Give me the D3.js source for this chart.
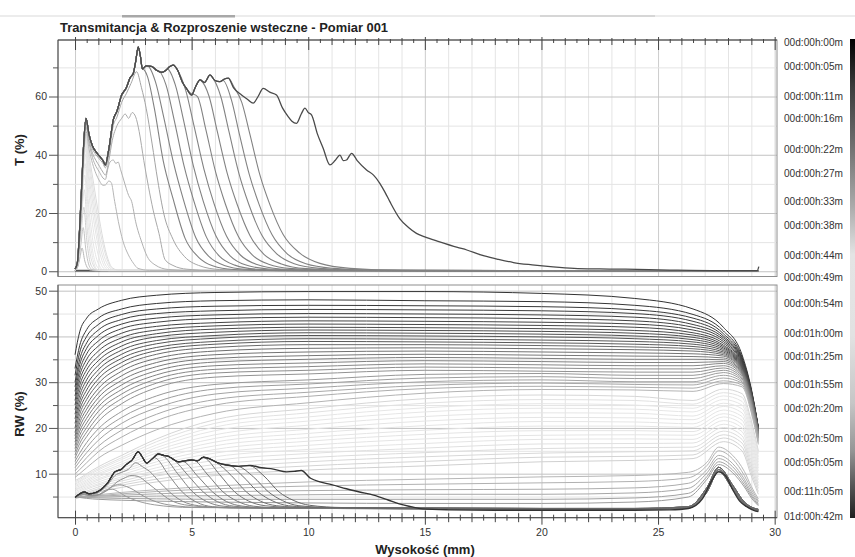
<!DOCTYPE html>
<html>
<head>
<meta charset="utf-8">
<script src="https://cdn.jsdelivr.net/npm/d3@7"></script>
<style>
  body { margin: 0; background: #fff; }
  svg { display: block; font-family: "Liberation Sans", Arial, sans-serif; }
</style>
</head>
<body>
<div id="chart"></div>
<script>
// ---- data ----
const titleText = "Transmitancja & Rozproszenie wsteczne - Pomiar 001";
const xLabels = [0, 5, 10, 15, 20, 25, 30];
const tMajorTicks = [0, 20, 40, 60];
const tMinorTicks = [10, 30, 50, 70];
const bsMajorTicks = [10, 20, 30, 40, 50];
const bsMinorTicks = [5, 15, 25, 35, 45];

const timeLabels = ["00d:00h:00m", "00d:00h:05m", "00d:00h:11m", "00d:00h:16m", "00d:00h:22m",
  "00d:00h:27m", "00d:00h:33m", "00d:00h:38m", "00d:00h:44m", "00d:00h:49m", "00d:00h:54m",
  "00d:01h:00m", "00d:01h:25m", "00d:01h:55m", "00d:02h:20m", "00d:02h:50m", "00d:05h:05m",
  "00d:11h:05m", "01d:00h:42m"];
// where each label sits along the time colour bar (0 = top, 1 = bottom)
const timeLabelAt = [0.008, 0.058, 0.119, 0.167, 0.230, 0.280, 0.340, 0.390, 0.451, 0.497,
  0.553, 0.614, 0.662, 0.722, 0.772, 0.835, 0.885, 0.944, 0.996];

// Transmission: last profile (widest), [mm, %]
const tFinal = [[0,0.8],[0.1,3],[0.2,15],[0.3,32],[0.38,45],[0.47,52.5],[0.6,47],[0.75,43],[0.9,41],
  [1.05,39.5],[1.2,38],[1.3,36.5],[1.45,42],[1.64,52],[1.8,55],[2.0,60.5],[2.2,63],[2.36,66.4],[2.5,68],
  [2.6,72],[2.71,77],[2.8,74],[2.89,69.5],[3.05,70.5],[3.29,70.3],[3.5,69],[3.71,68.3],[3.9,69],[4.05,70.2],
  [4.21,70.8],[4.4,69],[4.6,65],[4.8,62.5],[5.0,60.5],[5.15,63],[5.36,65.7],[5.55,64.8],[5.79,67.4],[6.0,65.5],
  [6.21,65.1],[6.4,66],[6.57,66.3],[6.8,63],[7.14,60.5],[7.4,59],[7.64,57.7],[7.85,60],[8.07,62.8],[8.35,61.5],
  [8.64,60.5],[8.9,56],[9.14,53.1],[9.3,51.5],[9.5,50.8],[9.7,54],[9.86,56],[10.0,54.5],[10.14,53.7],[10.4,47],
  [10.64,42.2],[10.93,36.5],[11.15,38],[11.36,39.9],[11.5,38],[11.64,38.2],[11.86,40.5],[12.1,38],[12.5,34.8],
  [12.8,33],[13.07,30.2],[13.3,27],[13.5,23.9],[13.93,18],[14.3,15],[14.64,13],[15.0,11.8],[15.6,10.2],
  [16.4,8.2],[16.8,7.3],[17.4,5.6],[18.1,4.2],[18.8,3.0],[19.6,2.2],[20.5,1.5],[21.4,1.0],[22.5,0.8],
  [23.6,0.7],[25.5,0.4],[27.6,0.2],[29.25,0.2],[29.32,1.6]];

// profiles that leave tFinal and fall off (their own part, from the split point on)
const tDrops = [
  [[6.8,63.5],[7.15,58],[7.5,47],[7.93,33],[8.36,22.8],[8.93,12.5],[9.64,6.2],[10.5,2.7],[11.8,1.0],[14,0.3],[29.3,0.1]],
  [[6.35,65.5],[6.7,59],[7.05,47],[7.48,33],[7.9,22.8],[8.45,12.5],[9.1,6.0],[9.9,2.6],[11.1,1.0],[13,0.3],[29.3,0.1]],
  [[5.9,66.5],[6.25,60],[6.6,48],[7.03,33.5],[7.45,23],[8.0,12.5],[8.65,6.0],[9.4,2.6],[10.5,1.0],[12.5,0.3],[29.3,0.1]],
  [[5.4,65.5],[5.75,60],[6.1,48],[6.53,33.5],[6.95,23],[7.5,12.3],[8.1,5.8],[8.85,2.5],[9.9,0.9],[12,0.3],[29.3,0.1]],
  [[4.9,61.5],[5.25,60],[5.6,49],[6.03,34],[6.45,23],[7.0,12],[7.6,5.6],[8.3,2.4],[9.3,0.9],[11.3,0.3],[29.3,0.1]],
  [[4.4,69],[4.75,62],[5.1,50],[5.53,35],[5.95,23.5],[6.5,12],[7.1,5.5],[7.8,2.3],[8.8,0.8],[10.8,0.3],[29.3,0.1]],
  [[3.95,69.5],[4.3,64],[4.65,52],[5.08,36],[5.5,24],[6.05,12],[6.65,5.3],[7.3,2.2],[8.3,0.8],[10.3,0.3],[29.3,0.1]],
  [[3.55,69],[3.9,64],[4.25,52],[4.68,36],[5.1,24],[5.63,11.8],[6.2,5.1],[6.85,2.1],[7.8,0.7],[9.8,0.2],[29.3,0.1]],
  [[3.1,70.5],[3.45,65],[3.8,53],[4.23,37],[4.65,24.5],[5.18,11.5],[5.75,5],[6.4,2],[7.3,0.7],[9.3,0.2],[29.3,0.1]],
  [[2.9,69.5],[3.1,67],[3.4,56],[3.78,38],[4.2,25],[4.72,11.3],[5.3,4.8],[5.9,1.9],[6.8,0.6],[8.8,0.2],[29.3,0.1]]
];

// profiles with their own lower plateaus
const tMid = [
  [[0,0.4],[0.1,2.5],[0.25,19],[0.38,44],[0.47,51.5],[0.6,46],[0.75,42],[0.9,40],[1.05,38.5],[1.2,37],[1.3,35.5],
   [1.45,40],[1.64,50],[1.8,53],[2.0,58],[2.2,61],[2.4,64.5],[2.64,68.5],[2.85,63],[3.05,56],[3.3,44],[3.55,31],
   [3.8,20],[4.2,11],[4.7,5],[5.3,2],[6.2,0.6],[8,0.2],[29.3,0.1]],
  [[0,0.4],[0.1,2.5],[0.25,19],[0.38,43],[0.47,50.5],[0.6,45],[0.75,40.5],[0.9,38],[1.05,36],[1.2,34],[1.3,33],
   [1.45,38],[1.6,45],[1.8,50],[2.0,52.5],[2.15,54],[2.3,52.5],[2.45,54.5],[2.6,53],[2.75,48],[2.95,38],[3.15,29],
   [3.35,21],[3.6,13],[3.86,4],[4.2,2],[4.8,0.7],[6,0.2],[29.3,0.1]],
  [[0,0.3],[0.1,2],[0.25,18],[0.38,42],[0.47,49.5],[0.6,44],[0.75,39],[0.9,36],[1.05,34],[1.2,32],[1.3,31.5],
   [1.4,35],[1.5,37.5],[1.64,38.2],[1.75,37],[1.85,37.5],[1.95,35],[2.1,31],[2.3,26],[2.43,23.9],[2.6,17],
   [2.86,10],[3.1,5],[3.43,2.2],[4,0.6],[5,0.2],[29.3,0.1]],
  [[0,0.3],[0.1,2],[0.25,17],[0.38,40],[0.47,48],[0.6,42],[0.75,37],[0.9,33.5],[1.05,31],[1.2,29.5],[1.3,29.6],
   [1.45,31],[1.55,30.5],[1.7,24],[1.86,17],[2.05,10.5],[2.29,5.6],[2.5,2.8],[2.7,1.0],[3.2,0.3],[29.3,0.1]]
];

// narrow early peaks near the bottom of the cell
const tLight = [
  [[0,0.3],[0.12,3],[0.25,18],[0.38,40],[0.46,47],[0.6,40],[0.8,30],[1.0,20],[1.2,11],[1.4,4.5],[1.6,1.2],[1.9,0.3],[29.3,0.1]],
  [[0,0.3],[0.12,3],[0.25,18],[0.38,40],[0.46,46],[0.6,38],[0.8,27],[1.0,17],[1.2,9],[1.4,3.5],[1.55,1.2],[1.8,0.3],[29.3,0.1]],
  [[0,0.3],[0.12,3],[0.25,18],[0.38,39],[0.46,45],[0.6,36],[0.8,24],[1.0,14],[1.2,6.5],[1.4,2.2],[1.6,0.5],[29.3,0.1]],
  [[0,0.3],[0.12,3],[0.25,18],[0.38,38],[0.46,44],[0.6,33],[0.8,21],[1.0,11],[1.2,4.5],[1.35,1.6],[1.6,0.3],[29.3,0.1]],
  [[0,0.3],[0.12,3],[0.25,17],[0.38,37],[0.45,43],[0.6,30],[0.8,17.5],[1.0,8.5],[1.15,3.8],[1.3,1.2],[1.5,0.3],[29.3,0.1]],
  [[0,0.3],[0.12,3],[0.25,17],[0.37,36],[0.45,42],[0.58,28],[0.75,16],[0.95,7],[1.1,2.8],[1.25,0.8],[1.45,0.2],[29.3,0.1]],
  [[0,0.3],[0.12,3],[0.25,16],[0.36,34],[0.44,40],[0.56,25],[0.72,13],[0.9,5],[1.05,1.8],[1.2,0.4],[29.3,0.1]],
  [[0,0.3],[0.12,3],[0.25,16],[0.35,31],[0.43,37],[0.55,22],[0.7,10],[0.85,3.5],[1.0,1],[1.15,0.3],[29.3,0.1]],
  [[0,0.3],[0.12,3],[0.25,15],[0.34,28],[0.42,33],[0.53,19],[0.68,8],[0.82,2.5],[0.95,0.6],[1.1,0.2],[29.3,0.1]],
  [[0,0.3],[0.12,3],[0.25,14],[0.33,24],[0.4,28],[0.52,15],[0.65,6],[0.8,1.8],[0.95,0.4],[29.3,0.1]],
  [[0,0.3],[0.12,2.5],[0.25,12],[0.38,22],[0.5,11],[0.62,4],[0.75,1.2],[0.9,0.3],[29.3,0.1]],
  [[0,0.3],[0.12,2],[0.25,9],[0.35,15],[0.47,7],[0.58,2.5],[0.7,0.7],[0.85,0.2],[29.3,0.1]],
  [[0,0.2],[0.12,1.5],[0.22,5],[0.3,8],[0.42,3.5],[0.55,1],[0.7,0.3],[29.3,0.1]]
];

// very first profiles, T ~ 0 everywhere
const tEarly = [
  [[0,0.1],[29.3,0.1]],
  [[0,0.3],[29.3,0.25]]
];

// Backscattering, profiles sampled on a shared height grid
const bsX = [0, 0.2, 0.5, 1, 2, 3.5, 6, 10, 15, 20, 24, 26.5, 27.8, 28.6, 29, 29.3];
const bsTop = [
  [36, 41, 44, 46, 47.9, 49, 49.6, 49.8, 49.8, 49.4, 48.3, 46, 42, 36, 28.5, 20],
  [33, 38, 41.5, 44, 46, 47.2, 47.8, 48, 47.8, 47.6, 46.8, 44.8, 41.2, 35.5, 28.3, 20.2],
  [31.5, 36.5, 40, 42.6, 44.8, 46, 46.6, 46.8, 46.7, 46.5, 45.8, 44, 40.6, 35.2, 28.1, 20.1],
  [30, 35, 38.6, 41.4, 43.7, 45, 45.6, 45.9, 45.8, 45.6, 45, 43.3, 40.1, 35, 28, 20],
  [29, 33.8, 37.4, 40.2, 42.7, 44, 44.7, 45, 44.9, 44.7, 44.2, 42.6, 39.7, 34.8, 27.9, 20],
  [28, 32.6, 36.2, 39, 41.7, 43.1, 43.9, 44.2, 44.1, 43.9, 43.4, 42, 39.3, 34.6, 27.8, 19.9],
  [27, 31.5, 35, 37.9, 40.7, 42.2, 43, 43.4, 43.3, 43.1, 42.7, 41.4, 38.9, 34.4, 27.7, 19.9],
  [26, 30.4, 33.8, 36.8, 39.7, 41.4, 42.3, 42.7, 42.6, 42.4, 42, 40.8, 38.5, 34.2, 27.6, 19.8],
  [25, 29.3, 32.7, 35.7, 38.8, 40.6, 41.6, 42, 41.9, 41.7, 41.3, 40.3, 38.1, 34, 27.5, 19.8],
  [24, 28.2, 31.6, 34.7, 37.9, 39.9, 40.9, 41.4, 41.3, 41.1, 40.7, 39.8, 37.8, 33.8, 27.4, 19.7],
  [23, 27.1, 30.5, 33.7, 37, 39.1, 40.2, 40.8, 40.7, 40.5, 40.1, 39.3, 37.5, 33.6, 27.3, 19.7],
  [22, 26, 29.4, 32.7, 36.1, 38.4, 39.6, 40.2, 40.1, 39.9, 39.5, 38.8, 37.2, 33.4, 27.2, 19.6],
  [21, 25, 28.3, 31.7, 35.2, 37.6, 38.9, 39.5, 39.4, 39.2, 38.9, 38.3, 36.9, 33.2, 27.1, 19.6],
  [20, 24, 27.2, 30.7, 34.3, 36.9, 38.3, 38.9, 38.8, 38.6, 38.3, 37.8, 36.6, 33, 27, 19.5]
];
const bsGrey = [
  [19, 23, 26.2, 29.7, 33.4, 36.1, 37.6, 38.2, 38.2, 38.0, 37.7, 37.3, 36.3, 32.8, 26.8, 19.4],
  [18.3, 22, 25.1, 28.6, 32.4, 35.2, 36.8, 37.4, 37.5, 37.3, 37.1, 36.8, 36, 32.6, 26.6, 19.3],
  [17.6, 21.1, 24.1, 27.6, 31.4, 34.3, 36, 36.6, 36.8, 36.6, 36.4, 36.2, 35.7, 32.4, 26.4, 19.2],
  [16.9, 20.2, 23.1, 26.6, 30.4, 33.4, 35.2, 35.8, 36.1, 35.9, 35.7, 35.6, 35.3, 32.2, 26.2, 19.0],
  [16.2, 19.3, 22.1, 25.6, 29.4, 32.5, 34.4, 35, 35.4, 35.2, 35.0, 35.0, 34.9, 32, 26, 18.9],
  [15.5, 18.4, 21.1, 24.6, 28.4, 31.6, 33.6, 34.2, 34.7, 34.5, 34.3, 34.3, 34.5, 31.8, 25.8, 18.7],
  [14.8, 17.5, 20.1, 23.6, 27.4, 30.7, 32.8, 33.4, 34.0, 33.8, 33.6, 33.6, 34.1, 31.6, 25.6, 18.6],
  [14.1, 16.6, 19.1, 22.5, 26.4, 29.8, 32.0, 32.6, 33.3, 33.1, 32.9, 32.9, 33.6, 31.3, 25.4, 18.4],
  [13.4, 15.7, 18.1, 21.4, 25.3, 28.8, 31.1, 31.8, 32.6, 32.4, 32.2, 32.2, 33.1, 31, 25.2, 18.2],
  [12.7, 14.5, 16.8, 19.8, 23.6, 27, 29.5, 30.5, 31.7, 31.9, 31.5, 31.5, 32.6, 30.7, 25, 18],
  [12, 13.6, 15.7, 18.6, 22.3, 25.7, 28.5, 29.6, 30.9, 31.2, 30.8, 30.8, 32.1, 30.4, 24.7, 17.8],
  [11.3, 12.7, 14.6, 17.3, 21, 24.4, 27.4, 28.7, 30.1, 30.5, 30.1, 30.1, 31.5, 30.1, 24.4, 17.5],
  [10.6, 11.8, 13.5, 16, 19.5, 23, 26.2, 27.8, 29.3, 29.8, 29.5, 29.4, 30.9, 29.8, 24.1, 17.2],
  [9.9, 10.9, 12.4, 14.8, 18, 21.6, 25, 26.9, 28.6, 29.1, 28.9, 28.7, 30.3, 29.4, 23.7, 16.8],
  [9.2, 10, 11.3, 13.4, 16.2, 19.6, 23.2, 25.5, 27.6, 28.4, 28.3, 28.0, 29.7, 29.0, 23.3, 16.4]
];
const bsLight = [
  [8.5, 9.0, 10.0, 11.5, 14.0, 17.6, 21.8, 24.2, 26.4, 27.2, 26.9, 26.0, 28.5, 27.5, 21.5, 15.0],
  [8.2, 8.7, 9.7, 11.1, 13.5, 17.0, 21.0, 23.3, 25.4, 26.2, 26.0, 25.2, 27.7, 26.7, 20.7, 14.4],
  [8.0, 8.4, 9.4, 10.8, 13.1, 16.3, 20.2, 22.4, 24.4, 25.3, 25.0, 24.3, 27.0, 25.8, 19.9, 13.7],
  [7.7, 8.2, 9.1, 10.4, 12.6, 15.7, 19.4, 21.5, 23.5, 24.3, 24.1, 23.5, 26.2, 25.0, 19.1, 13.1],
  [7.4, 7.9, 8.7, 10.0, 12.1, 15.1, 18.5, 20.6, 22.5, 23.3, 23.2, 22.6, 25.4, 24.2, 18.3, 12.5],
  [7.2, 7.6, 8.4, 9.7, 11.7, 14.5, 17.7, 19.7, 21.5, 22.3, 22.2, 21.8, 24.7, 23.3, 17.5, 11.8],
  [6.9, 7.3, 8.1, 9.3, 11.2, 13.8, 16.9, 18.8, 20.5, 21.4, 21.3, 20.9, 23.9, 22.5, 16.7, 11.2],
  [6.6, 7.0, 7.8, 8.9, 10.7, 13.2, 16.1, 17.9, 19.5, 20.4, 20.4, 20.1, 23.1, 21.7, 15.9, 10.6],
  [6.4, 6.8, 7.5, 8.6, 10.3, 12.6, 15.3, 17.1, 18.6, 19.4, 19.4, 19.2, 22.4, 20.8, 15.1, 9.9],
  [6.1, 6.5, 7.2, 8.2, 9.8, 12.0, 14.5, 16.2, 17.6, 18.4, 18.5, 18.4, 21.6, 20.0, 14.3, 9.3],
  [5.8, 6.2, 6.9, 7.8, 9.3, 11.3, 13.7, 15.3, 16.6, 17.5, 17.6, 17.5, 20.8, 19.2, 13.5, 8.7],
  [5.6, 5.9, 6.6, 7.5, 8.9, 10.7, 12.9, 14.4, 15.6, 16.5, 16.6, 16.7, 20.1, 18.3, 12.7, 8.0],
  [5.3, 5.6, 6.2, 7.1, 8.4, 10.1, 12.0, 13.5, 14.6, 15.5, 15.7, 15.8, 19.3, 17.5, 11.9, 7.4],
  [5.0, 5.4, 5.9, 6.7, 7.9, 9.5, 11.2, 12.6, 13.7, 14.5, 14.8, 15.0, 18.5, 16.7, 11.1, 6.8],
  [4.8, 5.1, 5.6, 6.4, 7.5, 8.8, 10.4, 11.7, 12.7, 13.6, 13.8, 14.1, 17.8, 15.8, 10.3, 6.1],
  [4.5, 4.8, 5.3, 6.0, 7.0, 8.2, 9.6, 10.8, 11.7, 12.6, 12.9, 13.3, 17.0, 15.0, 9.5, 5.5]
];
const bsXLow = [0, 0.2, 0.5, 1, 2, 3.5, 6, 10, 15, 20, 24, 26.3, 27.1, 27.6, 28.2, 28.7, 29, 29.3];
const bsLower = [
  [4.8, 4.9, 5.1, 5.4, 5.9, 6.5, 7.3, 8.2, 8.8, 9.3, 9.6, 10.3, 12.5, 15.8, 14, 10.5, 7.2, 4.5],
  [4.8, 4.9, 5.0, 5.2, 5.6, 6.1, 6.7, 7.3, 7.7, 8.0, 8.3, 9.1, 11.8, 15.0, 13.2, 9.6, 6.6, 4.1],
  [4.9, 4.9, 5.0, 5.1, 5.3, 5.6, 6.0, 6.3, 6.5, 6.6, 6.9, 7.9, 10.9, 14.0, 12.2, 8.8, 6.0, 3.8],
  [5.0, 4.9, 4.9, 4.9, 5.0, 5.1, 5.2, 5.4, 5.5, 5.5, 5.8, 6.8, 10.2, 13.3, 11.5, 8.2, 5.5, 3.5],
  [5.0, 4.9, 4.8, 4.7, 4.6, 4.5, 4.4, 4.4, 4.4, 4.4, 4.7, 5.7, 9.4, 12.6, 10.8, 7.6, 5.1, 3.2],
  [5.0, 4.8, 4.6, 4.4, 4.2, 4.0, 3.8, 3.6, 3.5, 3.5, 3.8, 4.9, 8.8, 12.0, 10.2, 7.1, 4.7, 3.0]
];

// last backscattering profile, [mm, %]
const bsFinal = [[0,4.8],[0.2,5.6],[0.4,6.0],[0.6,5.6],[0.9,5.9],[1.1,6.5],[1.4,8],[1.71,10.4],[2.0,11],[2.2,12],
  [2.45,13],[2.71,14.8],[2.9,13.5],[3.07,12.3],[3.3,13.2],[3.57,14.3],[3.8,14],[4.0,13.8],[4.2,13.2],[4.43,12.6],
  [4.7,12.8],[5.0,13],[5.25,12.8],[5.5,13.6],[5.8,13.2],[6.1,12.4],[6.5,11.9],[7.0,11.6],[7.5,11.8],[8.0,11.3],
  [8.5,11],[9.07,10.4],[9.4,10.5],[9.7,10.7],[10.1,9.0],[10.5,8.2],[11.0,7.6],[11.64,6.7],[12.2,6.0],[12.8,5.3],
  [13.4,4.3],[13.9,3.4],[14.4,2.8],[14.9,2.3],[16,2.1],[18,2.0],[20,2.0],[22,2.0],[24,2.0],[25.5,2.1],[26.3,2.4],
  [26.9,4.5],[27.2,7.5],[27.6,10.4],[27.9,9.5],[28.2,6.5],[28.5,4],[28.8,2.8],[29.1,2.0],[29.3,1.7]];

// profiles that leave bsFinal and fall back to the base
const bsDrops = [
  [[7.45,11.8],[8.1,9.5],[8.75,6],[9.35,4.2],[10.05,3.1],[11.5,2.6]],
  [[7.0,11.6],[7.65,9.3],[8.3,6],[8.9,4.1],[9.6,3.0],[11,2.6]],
  [[6.55,11.9],[7.2,9.4],[7.85,6],[8.45,4.1],[9.15,3.0],[10.5,2.6]],
  [[6.05,12.5],[6.7,9.6],[7.35,6],[7.95,4],[8.65,3.0],[10,2.6]],
  [[5.55,13.5],[6.2,9.8],[6.85,6],[7.45,4],[8.15,3.0],[9.5,2.6]],
  [[5.05,13],[5.7,9.7],[6.35,6],[6.95,4],[7.65,2.9],[9,2.5]],
  [[4.6,12.7],[5.25,9.5],[5.9,6],[6.5,3.9],[7.2,2.9],[8.6,2.5]],
  [[4.2,13.2],[4.85,9.6],[5.5,6],[6.1,3.9],[6.8,2.9],[8.2,2.5]],
  [[3.75,14],[4.4,10],[5.05,6],[5.65,3.9],[6.35,2.9],[7.8,2.5]],
  [[3.4,13.5],[4.0,9.8],[4.6,6],[5.2,3.8],[5.9,2.8],[7.3,2.5]]
];
// lower bumps with their own shape
const bsRise = [
  [[0,4.8],[0.2,5.5],[0.4,5.8],[0.6,5.4],[0.9,5.6],[1.1,6.2],[1.4,7.6],[1.71,9.6],[2.0,10.3],[2.3,11],[2.6,12.4],
   [2.9,11.5],[3.2,10.5],[3.6,8.3],[4.05,6],[4.6,4],[5.3,3],[6.8,2.5]],
  [[0,4.8],[0.2,5.4],[0.4,5.6],[0.6,5.2],[0.9,5.3],[1.2,5.8],[1.5,6.8],[1.8,8.2],[2.1,9],[2.4,9.6],[2.7,9.4],
   [3.1,8],[3.6,6],[4.1,4.2],[4.7,3.2],[6.2,2.6]],
  [[0,4.8],[0.2,5.3],[0.4,5.5],[0.7,5.2],[1.0,5.4],[1.3,6.2],[1.6,7.2],[1.9,7.6],[2.2,7.2],[2.5,6.5],[2.8,5.5],
   [3.3,4.2],[4.0,3.2],[5.5,2.6]],
  [[0,4.8],[0.2,5.2],[0.4,5.4],[0.7,5.1],[1.0,5.3],[1.3,6.4],[1.6,6.6],[1.9,5.9],[2.2,5],[2.7,4],[3.4,3.2],[5,2.6]]
];
// right-hand part shared by the late profiles (peak near the top of the cell)
const bsLateRight = [
  [[15,2.5],[20,2.4],[24,2.4],[26.3,2.8],[27.1,7],[27.6,11.4],[28.2,7.5],[28.7,3.8],[29,2.7],[29.3,2.2]],
  [[15,2.4],[20,2.3],[24,2.3],[26.3,2.6],[27.1,6.5],[27.6,10.9],[28.2,7],[28.7,3.5],[29,2.5],[29.3,2.0]],
  [[15,2.3],[20,2.2],[24,2.2],[26.3,2.5],[27.1,6],[27.6,10.5],[28.2,6.6],[28.7,3.2],[29,2.3],[29.3,1.9]]
];

// ---- drawing ----
const W = 855, H = 557;
const svg = d3.select("#chart").append("svg").attr("width", W).attr("height", H);

const x = d3.scaleLinear().domain([-0.73, 30.1]).range([58, 777]);
const yT = d3.scaleLinear().domain([-1.8, 79.4]).range([276.5, 40]);
const yB = d3.scaleLinear().domain([0.38, 51.24]).range([517.7, 285]);

// grey ramp of the time bar
const shade = d3.scaleLinear()
  .domain([0, 0.1, 0.22, 0.35, 0.45, 0.62, 0.76, 0.86, 0.93, 1])
  .range(["#000", "#3c3c3c", "#6e6e6e", "#ababab", "#e4e4e4", "#e2e2e2", "#c6c6c6", "#959595", "#585858", "#202020"]);
// same ramp, a little softer for the thin profile lines
const lineShade = d3.scaleLinear()
  .domain([0, 0.1, 0.22, 0.35, 0.45, 0.62, 0.76, 0.86, 0.93, 1])
  .range(["#303030", "#505050", "#7c7c7c", "#b2b2b2", "#e6e6e6", "#e4e4e4", "#c8c8c8", "#9c9c9c", "#6a6a6a", "#2e2e2e"]);

// thin tab strip on top
svg.append("rect").attr("x", 0).attr("y", 15).attr("width", W).attr("height", 2).attr("fill", "#ececec");
svg.append("rect").attr("x", 122).attr("y", 15).attr("width", 113).attr("height", 2.5).attr("fill", "#a8a8a8");
svg.append("rect").attr("x", 540).attr("y", 15).attr("width", 115).attr("height", 2).attr("fill", "#d6d6d6");

const panels = [
  { y: yT, top: 40, bot: 276.5, major: tMajorTicks, minor: tMinorTicks, label: "T (%)", labelY: 150, id: "clipT" },
  { y: yB, top: 285, bot: 517.7, major: bsMajorTicks, minor: bsMinorTicks, label: "RW (%)", labelY: 414, id: "clipB" }
];

const defs = svg.append("defs");
panels.forEach(p => {
  defs.append("clipPath").attr("id", p.id).append("rect")
    .attr("x", 58).attr("y", p.top).attr("width", 719).attr("height", p.bot - p.top);

  const g = svg.append("g");
  g.append("g").attr("transform", `translate(0,${p.bot})`)
    .call(d3.axisBottom(x).tickValues(d3.range(0, 31, 1)).tickSize(-(p.bot - p.top)).tickFormat(""))
    .call(a => a.select(".domain").remove())
    .call(a => a.selectAll(".tick line").attr("stroke", d => d % 5 === 0 ? "#cccccc" : "#e4e4e4"));
  g.append("g").attr("transform", "translate(58,0)")
    .call(d3.axisLeft(p.y).tickValues(p.major.concat(p.minor)).tickSize(-719).tickFormat(""))
    .call(a => a.select(".domain").remove())
    .call(a => a.selectAll(".tick line").attr("stroke", d => p.major.includes(d) ? "#c2c2c2" : "#e4e4e4"));
});

function drawCurves(p, list) {
  const line = d3.line().x(d => x(d[0])).y(d => p.y(d[1])).curve(d3.curveMonotoneX);
  svg.append("g").attr("clip-path", `url(#${p.id})`).attr("fill", "none")
    .selectAll("path").data(list).join("path")
    .attr("d", d => line(d.pts))
    .attr("stroke", d => d.color)
    .attr("stroke-width", d => d.w || 1);
}

// transmission profiles, in time order
const tCurves = [];
tEarly.forEach((pts, i) => tCurves.push({ pts, color: lineShade(0.03 + i * 0.08), w: 1.2 }));
tLight.slice().reverse().forEach((pts, i) => tCurves.push({ pts, color: lineShade(0.36 + i * 0.025) }));
tMid.slice().reverse().forEach((pts, i) => tCurves.push({ pts, color: lineShade(0.8 + i * 0.015) }));
tDrops.slice().reverse().forEach(own => {
  const pts = tFinal.filter(d => d[0] < own[0][0]).concat(own);
  tCurves.push({ pts, color: "#828282", w: 1.1 });
});
tCurves.push({ pts: tFinal, color: "#4a4a4a", w: 1.3 });
drawCurves(panels[0], tCurves);

// backscattering profiles, in time order
const bsCurves = [];
bsTop.forEach((row, i) => bsCurves.push({ pts: bsX.map((v, j) => [v, row[j]]), color: lineShade(0.01 + i * 0.009) }));
bsGrey.forEach((row, i) => bsCurves.push({ pts: bsX.map((v, j) => [v, row[j]]), color: lineShade(0.17 + i * 0.013) }));
bsLight.forEach((row, i) => bsCurves.push({ pts: bsX.map((v, j) => [v, row[j]]), color: lineShade(0.42 + i * 0.02) }));
bsLower.forEach((row, i) => bsCurves.push({ pts: bsXLow.map((v, j) => [v, row[j]]), color: lineShade(0.8 + i * 0.012) }));
bsRise.slice().reverse().forEach((own, i) => bsCurves.push({ pts: own.concat(bsLateRight[i % 3]), color: lineShade(0.86 + i * 0.008) }));
bsDrops.slice().reverse().forEach((own, i) => {
  const pts = bsFinal.filter(d => d[0] < own[0][0]).concat(own, bsLateRight[i % 3]);
  bsCurves.push({ pts, color: lineShade(0.89 + i * 0.005) });
});
bsCurves.push({ pts: bsFinal, color: "#333", w: 1.4 });
drawCurves(panels[1], bsCurves);

// frames, axes and labels
const axisFont = g => g.attr("font-family", "Liberation Sans, Arial, sans-serif").attr("font-size", 10.5);
panels.forEach(p => {
  svg.append("rect").attr("x", 58).attr("y", p.top).attr("width", 719).attr("height", p.bot - p.top)
    .attr("fill", "none").attr("stroke", "#8e8e8e");
  svg.append("g").attr("transform", "translate(58,0)")
    .call(d3.axisLeft(p.y).tickValues(p.minor).tickSize(5).tickFormat(""))
    .call(a => a.select(".domain").remove())
    .call(a => a.selectAll(".tick line").attr("stroke", "#555"));
  svg.append("g").attr("transform", "translate(58,0)")
    .call(d3.axisLeft(p.y).tickValues(p.major).tickSize(9).tickPadding(2))
    .call(axisFont)
    .call(a => a.select(".domain").attr("stroke", "#555").attr("d", `M0,${p.top}V${p.bot}`))
    .call(a => a.selectAll(".tick line").attr("stroke", "#555"))
    .call(a => a.selectAll(".tick text").attr("fill", "#333"));
  svg.append("text")
    .attr("transform", `translate(24,${p.labelY}) rotate(-90)`)
    .attr("text-anchor", "middle").attr("font-size", 13).attr("font-weight", "bold").attr("fill", "#222")
    .text(p.label);
});

const halfTicks = d3.range(0, 30.01, 0.5);
// top axis of the transmission panel
svg.append("g").attr("transform", "translate(0,40)")
  .call(d3.axisTop(x).tickValues(halfTicks).tickSize(0).tickFormat(""))
  .call(a => a.select(".domain").attr("stroke", "#444").attr("d", "M58,0H777"))
  .call(a => a.selectAll(".tick line").attr("stroke", "#444")
    .attr("y1", d => d % 5 === 0 ? -3 : (d % 1 === 0 ? -2 : -1))
    .attr("y2", d => d % 5 === 0 ? 10 : (d % 1 === 0 ? 5 : 3)));
// bottom axis of the backscattering panel
svg.append("g").attr("transform", "translate(0,517.7)")
  .call(d3.axisBottom(x).tickValues(halfTicks).tickSize(0).tickFormat(""))
  .call(a => a.select(".domain").attr("stroke", "#444").attr("d", "M58,0H777"))
  .call(a => a.selectAll(".tick line").attr("stroke", "#444")
    .attr("y1", d => d % 5 === 0 ? -7 : (d % 1 === 0 ? -4.5 : -3))
    .attr("y2", d => d % 5 === 0 ? 7 : (d % 1 === 0 ? 4.5 : 3)));
svg.append("g").attr("transform", "translate(0,517.7)")
  .call(d3.axisBottom(x).tickValues(xLabels).tickSize(0).tickPadding(11))
  .call(axisFont)
  .call(a => a.select(".domain").remove())
  .call(a => a.selectAll(".tick text").attr("fill", "#333"));

svg.append("text").attr("x", 60).attr("y", 32)
  .attr("font-size", 13).attr("font-weight", "bold").attr("fill", "#222")
  .attr("textLength", 328).attr("lengthAdjust", "spacingAndGlyphs")
  .text(titleText);
svg.append("text").attr("x", 425).attr("y", 554).attr("text-anchor", "middle")
  .attr("font-size", 13).attr("font-weight", "bold").attr("fill", "#222")
  .text("Wysokość (mm)");

// time colour bar
const bar = d3.scaleLinear().domain([0, 1]).range([39, 518]);
const grad = defs.append("linearGradient").attr("id", "timeGrad")
  .attr("x1", 0).attr("y1", 0).attr("x2", 0).attr("y2", 1);
grad.selectAll("stop").data(shade.domain()).join("stop")
  .attr("offset", d => d).attr("stop-color", d => shade(d));
svg.append("rect").attr("x", 850).attr("y", bar(0)).attr("width", 5).attr("height", bar(1) - bar(0))
  .attr("fill", "url(#timeGrad)");
svg.append("g").selectAll("text").data(timeLabels).join("text")
  .attr("x", 784).attr("y", (d, i) => bar(timeLabelAt[i]) + 3.5)
  .attr("font-size", 10).attr("fill", "#333")
  .attr("textLength", 59).attr("lengthAdjust", "spacingAndGlyphs")
  .text(d => d);
</script>
</body>
</html>
